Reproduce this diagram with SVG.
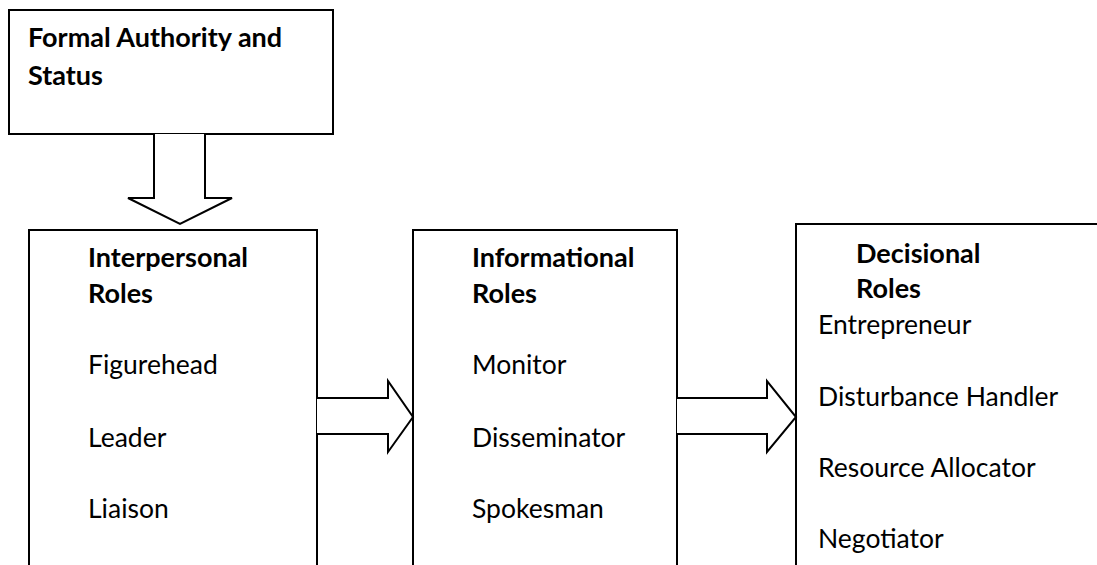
<svg xmlns="http://www.w3.org/2000/svg" width="1097" height="565" viewBox="0 0 1097 565">
<style>
.box{fill:#fff;stroke:#000;stroke-width:2}
.arr{fill:#fff;stroke:#000;stroke-width:2;stroke-linejoin:miter}
text{font-family:Lato,"Liberation Sans",sans-serif;font-size:26.5px;fill:#000}
.b{font-weight:bold;font-size:27px}
</style>
<rect width="1097" height="565" fill="#fff"/>
<g id="node-formal">
<rect class="box" x="9" y="10" width="324" height="124"/>
<text class="b" x="28" y="47">Formal Authority and</text>
<text class="b" x="28" y="85">Status</text>
</g>
<g id="node-interpersonal">
<path class="box" d="M29,566 V230 H317 V566"/>
<text class="b" x="88" y="267">Interpersonal</text>
<text class="b" x="88" y="303">Roles</text>
<text x="88" y="374">Figurehead</text>
<text x="88" y="447">Leader</text>
<text x="88" y="518">Liaison</text>
</g>
<g id="node-informational">
<path class="box" d="M413,566 V230 H677 V566"/>
<text class="b" x="472" y="267">Informational</text>
<text class="b" x="472" y="303">Roles</text>
<text x="472" y="374">Monitor</text>
<text x="472" y="447">Disseminator</text>
<text x="472" y="518">Spokesman</text>
</g>
<g id="node-decisional">
<path class="box" d="M796,566 V224 H1098"/>
<text class="b" x="856" y="263">Decisional</text>
<text class="b" x="856" y="298">Roles</text>
<text x="818" y="334">Entrepreneur</text>
<text x="818" y="406">Disturbance Handler</text>
<text x="818" y="477">Resource Allocator</text>
<text x="818" y="548">Negotiator</text>
</g>
<g id="connectors">
<path class="arr" d="M154,134 V198 H128 L180,224 L232,198 H205 V134"/>
<path class="arr" d="M317,398 H388 V381 L413,417 L388,452 V434 H317"/>
<path class="arr" d="M677,398 H767 V381 L796,417 L767,452 V434 H677"/>
</g>
</svg>
